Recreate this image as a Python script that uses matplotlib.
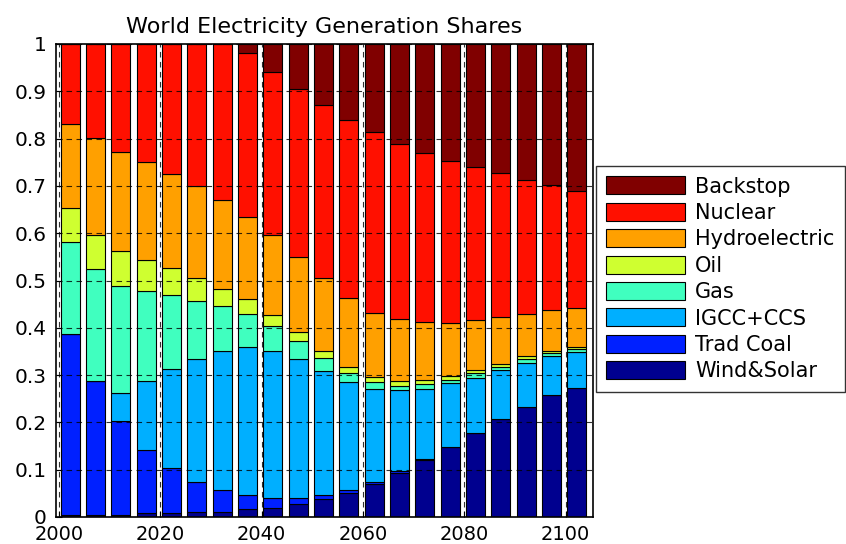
import matplotlib
matplotlib.use("Agg")
import matplotlib.pyplot as plt
import numpy as np

plt.rcParams['font.family'] = ['DejaVu Sans']

years = list(range(2000, 2101, 5))
labels = ['Wind&Solar', 'Trad Coal', 'IGCC+CCS', 'Gas', 'Oil',
          'Hydroelectric', 'Nuclear', 'Backstop']

wind_solar = [0.005, 0.005, 0.005, 0.008, 0.008, 0.011, 0.011, 0.017, 0.019, 0.027, 0.037,
              0.051, 0.070, 0.093, 0.121, 0.149, 0.177, 0.207, 0.233, 0.257, 0.272]
trad_coal = [0.381, 0.283, 0.198, 0.133, 0.095, 0.064, 0.047, 0.029, 0.022, 0.013, 0.009,
             0.007, 0.005, 0.004, 0.001, 0.0, 0.0, 0.0, 0.0, 0.0, 0.0]
igcc_ccs = [0.0, 0.0, 0.059, 0.147, 0.209, 0.259, 0.294, 0.313, 0.311, 0.295, 0.263,
            0.227, 0.196, 0.171, 0.149, 0.134, 0.116, 0.104, 0.093, 0.084, 0.076]
gas = [0.195, 0.236, 0.227, 0.189, 0.157, 0.123, 0.095, 0.071, 0.052, 0.037, 0.028,
       0.019, 0.014, 0.010, 0.010, 0.007, 0.011, 0.007, 0.009, 0.005, 0.007]
oil = [0.073, 0.072, 0.073, 0.066, 0.057, 0.049, 0.035, 0.031, 0.024, 0.019, 0.015,
       0.014, 0.010, 0.009, 0.009, 0.008, 0.006, 0.005, 0.005, 0.005, 0.005]
hydro = [0.177, 0.205, 0.210, 0.207, 0.199, 0.193, 0.189, 0.173, 0.168, 0.159, 0.154,
         0.145, 0.137, 0.132, 0.123, 0.113, 0.106, 0.099, 0.090, 0.087, 0.081]
nuclear = [0.169, 0.199, 0.228, 0.250, 0.275, 0.301, 0.329, 0.346, 0.345, 0.355, 0.364,
           0.376, 0.383, 0.370, 0.356, 0.341, 0.323, 0.305, 0.283, 0.263, 0.249]
backstop = [0.0, 0.0, 0.0, 0.0, 0.0, 0.0, 0.0, 0.020, 0.059, 0.095, 0.130,
            0.161, 0.185, 0.211, 0.231, 0.248, 0.261, 0.273, 0.287, 0.299, 0.310]

series = [wind_solar, trad_coal, igcc_ccs, gas, oil, hydro, nuclear, backstop]
colors = ['#00008f', '#0020ff', '#00afff', '#40ffbf', '#cfff30',
          '#ffa000', '#ff1000', '#800000']

fig = plt.figure(figsize=(8.46, 5.44), dpi=100)
ax = fig.add_axes([56/846, 27/544, 537/846, 473/544])

# bars sit a bit right of the year ticks in the original
x = np.array(years) + 2.2
bottom = np.zeros(len(years))
handles = []
for vals, c, lab in zip(series, colors, labels):
    h = ax.bar(x, vals, width=3.75, bottom=bottom, color=c,
               edgecolor='black', linewidth=0.8, label=lab)
    handles.append(h)
    bottom += np.array(vals)

ax.set_xlim(1999.4, 2105.4)
ax.set_ylim(0, 1)
ax.set_xticks(range(2000, 2101, 20))
ax.set_yticks(np.arange(0, 1.01, 0.1))
ax.set_yticklabels(['0', '0.1', '0.2', '0.3', '0.4', '0.5', '0.6', '0.7', '0.8', '0.9', '1'])
ax.tick_params(direction='in', labelsize=14.5, length=4)
ax.tick_params(axis='x', pad=6, labelsize=14)
ax.tick_params(axis='y', pad=7)
ax.set_axisbelow(False)
ax.grid(True, color='black', linestyle=(0, (5, 4)), linewidth=0.8, alpha=0.8)
for s in ax.spines.values():
    s.set_linewidth(1.2)
ax.set_title('World Electricity Generation Shares', fontsize=16, pad=8)

leg = fig.legend(handles[::-1], labels[::-1], loc='upper left',
                 bbox_to_anchor=(596/846, 1 - 166/544), fontsize=15,
                 frameon=True, fancybox=False, edgecolor='black',
                 handlelength=3.75, handleheight=0.95, labelspacing=0.3,
                 borderpad=0.5, handletextpad=0.5, borderaxespad=0)
leg.get_frame().set_linewidth(1.0)

fig.savefig('out.png', dpi=100)
